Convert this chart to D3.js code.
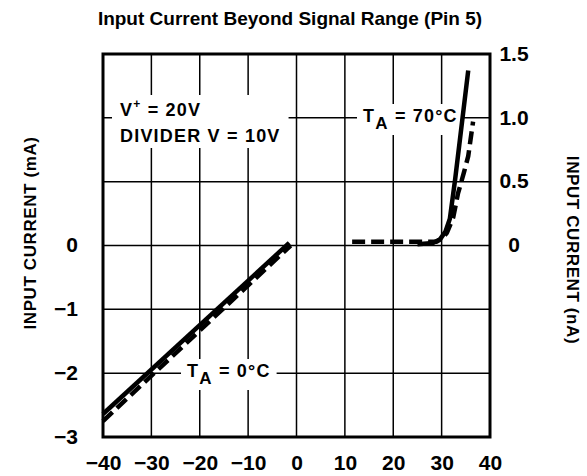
<!DOCTYPE html>
<html>
<head>
<meta charset="utf-8">
<script src="https://cdn.jsdelivr.net/npm/d3@7"></script>
<style>
  body { margin: 0; background: #fff; }
  svg { display: block; }
  text { font-family: "Liberation Sans", Arial, sans-serif; font-weight: bold; }
</style>
</head>
<body>
<svg id="chart" width="587" height="476"></svg>
<script>
// tick values
var xTicks = [-40, -30, -20, -10, 0, 10, 20, 30, 40];
var leftTicks = [0, -1, -2, -3];
var rightTicks = [0, 0.5, 1.0, 1.5];
var gridY = [-3, -2, -1, 0, 1, 2, 3];

// T_A = 0°C, input current in mA (left axis)
var coldSolid = [[-40, -2.64], [-1.5, 0.04]];
var coldDashed = [[-40, -2.75], [-1.2, 0.0]];

// T_A = 70°C, input current in nA (right axis)
var hotSolid = [[25, 0.01], [28.2, 0.02], [29.7, 0.05], [30.8, 0.11], [31.7, 0.21], [32.8, 0.52], [35.5, 1.37]];
var hotDashed = [[11.5, 0.03], [29, 0.03], [30.2, 0.06], [31.1, 0.1], [32.4, 0.22], [33.4, 0.41], [34.6, 0.57], [35.5, 0.7], [36.5, 0.97]];

(function() {
    var svg = d3.select('#chart');
    var m = {left: 103, right: 490, top: 54, bottom: 437};

    var x = d3.scaleLinear().domain([-40, 40]).range([m.left, m.right]);
    var yL = d3.scaleLinear().domain([-3, 3]).range([m.bottom, m.top]);
    var yR = d3.scaleLinear().domain([-1.5, 1.5]).range([m.bottom, m.top]);

    // title
    svg.append('text')
        .attr('x', 290).attr('y', 25)
        .attr('text-anchor', 'middle')
        .style('font-size', '19px')
        .text('Input Current Beyond Signal Range (Pin 5)');

    // grid
    var grid = svg.append('g').attr('stroke', '#000').attr('stroke-width', 1.5);
    grid.selectAll('line.v').data(xTicks).enter().append('line')
        .attr('x1', function(d) { return x(d); }).attr('x2', function(d) { return x(d); })
        .attr('y1', m.top).attr('y2', m.bottom);
    grid.selectAll('line.h').data(gridY).enter().append('line')
        .attr('y1', function(d) { return yL(d); }).attr('y2', function(d) { return yL(d); })
        .attr('x1', m.left).attr('x2', m.right);

    svg.append('rect')
        .attr('x', m.left).attr('y', m.top)
        .attr('width', m.right - m.left).attr('height', m.bottom - m.top)
        .attr('fill', 'none').attr('stroke', '#000').attr('stroke-width', 3);

    // axes (labels only)
    var fmtR = function(d) { return d === 0 ? '0' : d.toFixed(1); };

    var xAxis = svg.append('g')
        .attr('transform', 'translate(0,' + m.bottom + ')')
        .call(d3.axisBottom(x).tickValues(xTicks).tickFormat(d3.format('d')).tickSize(0).tickPadding(18));
    var lAxis = svg.append('g')
        .attr('transform', 'translate(' + m.left + ',0)')
        .call(d3.axisLeft(yL).tickValues(leftTicks).tickFormat(d3.format('d')).tickSize(0).tickPadding(25));
    var rAxis = svg.append('g')
        .attr('transform', 'translate(' + m.right + ',0)')
        .call(d3.axisRight(yR).tickValues(rightTicks).tickFormat(fmtR).tickSize(0).tickPadding(24));

    [xAxis, lAxis, rAxis].forEach(function(a) {
        a.select('.domain').remove();
        a.attr('font-family', null).attr('font-size', null);
        a.selectAll('text')
            .attr('fill', '#000')
            .style('font-size', '21px');
    });
    rAxis.selectAll('text').attr('text-anchor', 'middle').attr('dy', '0.3em');
    lAxis.selectAll('text').attr('dy', '0.3em');

    // axis titles
    svg.append('text')
        .attr('transform', 'translate(30,233) rotate(-90)')
        .attr('text-anchor', 'middle').attr('dy', '0.35em')
        .style('font-size', '17px').style('letter-spacing', '0.6px')
        .text('INPUT CURRENT (mA)');
    svg.append('text')
        .attr('transform', 'translate(573,250) rotate(90)')
        .attr('text-anchor', 'middle').attr('dy', '0.35em')
        .style('font-size', '17px').style('letter-spacing', '0.6px')
        .text('INPUT CURRENT (nA)');

    // annotations with white backing
    function label(px, py, build, pad) {
        var g = svg.append('g');
        var bg = g.append('rect').attr('fill', '#fff');
        var t = g.append('text')
            .attr('x', px).attr('y', py)
            .style('font-size', '18px').style('letter-spacing', '1.2px');
        build(t);
        var b = t.node().getBBox();
        bg.attr('x', b.x - pad).attr('y', b.y - 2).attr('width', b.width + 2 * pad).attr('height', b.height + 4);
        return g;
    }

    label(120, 116, function(t) {
        t.append('tspan').text('V');
        t.append('tspan').attr('dy', -8).style('font-size', '12px').text('+');
        t.append('tspan').attr('dy', 8).text(' = 20V');
        t.append('tspan').attr('x', 120).attr('dy', 26).text('DIVIDER V = 10V');
    }, 8);

    function taLabel(px, py, temp) {
        return label(px, py, function(t) {
            t.append('tspan').text('T');
            t.append('tspan').attr('dy', 7).style('font-size', '17px').text('A');
            t.append('tspan').attr('dy', -7).text(' = ' + temp + '°C');
        }, 6);
    }
    taLabel(363, 122, 70);
    taLabel(187, 377, 0);

    // curves
    var lineL = d3.line().x(function(d) { return x(d[0]); }).y(function(d) { return yL(d[1]); });
    var lineR = d3.line().x(function(d) { return x(d[0]); }).y(function(d) { return yR(d[1]); });

    svg.append('path').datum(coldSolid).attr('d', lineL)
        .attr('fill', 'none').attr('stroke', '#000').attr('stroke-width', 4.5);
    svg.append('path').datum(coldDashed).attr('d', lineL)
        .attr('fill', 'none').attr('stroke', '#000').attr('stroke-width', 4.5)
        .attr('stroke-dasharray', '13,6');
    svg.append('path').datum(hotSolid).attr('d', lineR)
        .attr('fill', 'none').attr('stroke', '#000').attr('stroke-width', 4.5)
        .attr('stroke-linejoin', 'round');
    svg.append('path').datum(hotDashed).attr('d', lineR)
        .attr('fill', 'none').attr('stroke', '#000').attr('stroke-width', 4.5)
        .attr('stroke-dasharray', '13,6').attr('stroke-linejoin', 'round');
})();
</script>
</body>
</html>
